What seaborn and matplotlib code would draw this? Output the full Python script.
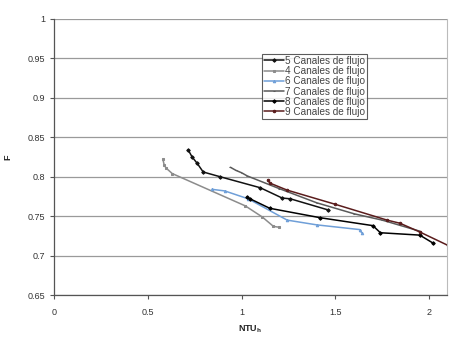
import matplotlib
matplotlib.use("Agg")
import matplotlib.pyplot as plt
import seaborn as sns
import pandas as pd

# NTU_h vs F for several channel counts
ntu_5 = [0.715, 0.736, 0.763, 0.795, 0.885, 1.10, 1.216, 1.26, 1.46]
f_5 = [0.834, 0.825, 0.817, 0.806, 0.800, 0.786, 0.773, 0.772, 0.758]

ntu_4 = [0.58, 0.587, 0.597, 0.63, 1.02, 1.11, 1.17, 1.20]
f_4 = [0.822, 0.815, 0.811, 0.804, 0.763, 0.749, 0.737, 0.736]

ntu_6 = [0.843, 0.91, 1.035, 1.243, 1.40, 1.63, 1.64]
f_6 = [0.784, 0.782, 0.772, 0.745, 0.739, 0.733, 0.729]

ntu_7 = [0.94, 0.97, 1.0, 1.03, 1.2, 1.4, 1.6, 1.75, 1.95]
f_7 = [0.812, 0.808, 0.805, 0.801, 0.785, 0.767, 0.753, 0.745, 0.731]

ntu_8 = [1.03, 1.045, 1.15, 1.42, 1.70, 1.74, 1.95, 2.02]
f_8 = [0.774, 0.772, 0.760, 0.748, 0.738, 0.729, 0.726, 0.716]

ntu_9 = [1.14, 1.15, 1.243, 1.50, 1.776, 1.845, 1.95, 2.10]
f_9 = [0.796, 0.792, 0.783, 0.765, 0.745, 0.741, 0.730, 0.713]

labels = ["5 Canales de flujo", "4 Canales de flujo", "6 Canales de flujo",
          "7 Canales de flujo", "8 Canales de flujo", "9 Canales de flujo"]
xs = [ntu_5, ntu_4, ntu_6, ntu_7, ntu_8, ntu_9]
ys = [f_5, f_4, f_6, f_7, f_8, f_9]

colors = ["#111111", "#8c8c8c", "#6f9fd8", "#5a5a5a", "#000000", "#5a1c1c"]
markers = ["D", "s", "^", "_", "D", "o"]

sns.set_style("white")
plt.rcParams["font.family"] = ["Liberation Sans", "DejaVu Sans"]

fig = plt.figure(figsize=(4.51, 3.38), dpi=100)
ax = fig.add_axes([0.12, 0.127, 0.871, 0.817])

for x, y, lab, c, m in zip(xs, ys, labels, colors, markers):
    df = pd.DataFrame({"NTU": x, "F": y})
    sns.lineplot(data=df, x="NTU", y="F", ax=ax, color=c, marker=m,
                 markersize=1.8, markeredgecolor=c, linewidth=1.1,
                 estimator=None, sort=False, label=lab)

ax.set_xlim(0, 2.095)
ax.set_ylim(0.65, 1.0)
ax.set_xticks([0, 0.5, 1, 1.5, 2])
ax.set_xticklabels(["0", "0.5", "1", "1.5", "2"])
ax.set_yticks([0.65, 0.7, 0.75, 0.8, 0.85, 0.9, 0.95, 1.0])
ax.set_yticklabels(["0.65", "0.7", "0.75", "0.8", "0.85", "0.9", "0.95", "1"])
ax.yaxis.grid(True, color="#9a9a9a", linewidth=0.9)
ax.set_axisbelow(True)

for s in ["left", "bottom"]:
    ax.spines[s].set_color("#555555")
    ax.spines[s].set_linewidth(0.9)
ax.spines["top"].set_visible(False)
ax.spines["right"].set_color("#bbbbbb")
ax.spines["right"].set_linewidth(0.8)

ax.tick_params(axis="both", which="both", direction="out", length=3,
               width=0.8, color="#555555", labelsize=6.5, labelcolor="#333333",
               left=True, bottom=True)
ax.tick_params(axis="x", pad=6)

ax.set_xlabel("NTU$_\\mathregular{h}$", fontsize=6.5, fontweight="bold", color="#222222", labelpad=5)
ax.set_ylabel("F", fontsize=6.5, fontweight="bold", color="#222222", labelpad=11, rotation=90)

leg = ax.legend(loc="upper left", bbox_to_anchor=(0.53, 0.873), fontsize=7.2,
                frameon=True, fancybox=False, handlelength=2.0, handletextpad=0.1,
                borderpad=0.2, labelspacing=0.02, borderaxespad=0)
leg.get_frame().set_edgecolor("#333333")
leg.get_frame().set_linewidth(0.8)
for t in leg.get_texts():
    t.set_color("#444444")

fig.savefig("out.png", dpi=100)
plt.close(fig)
